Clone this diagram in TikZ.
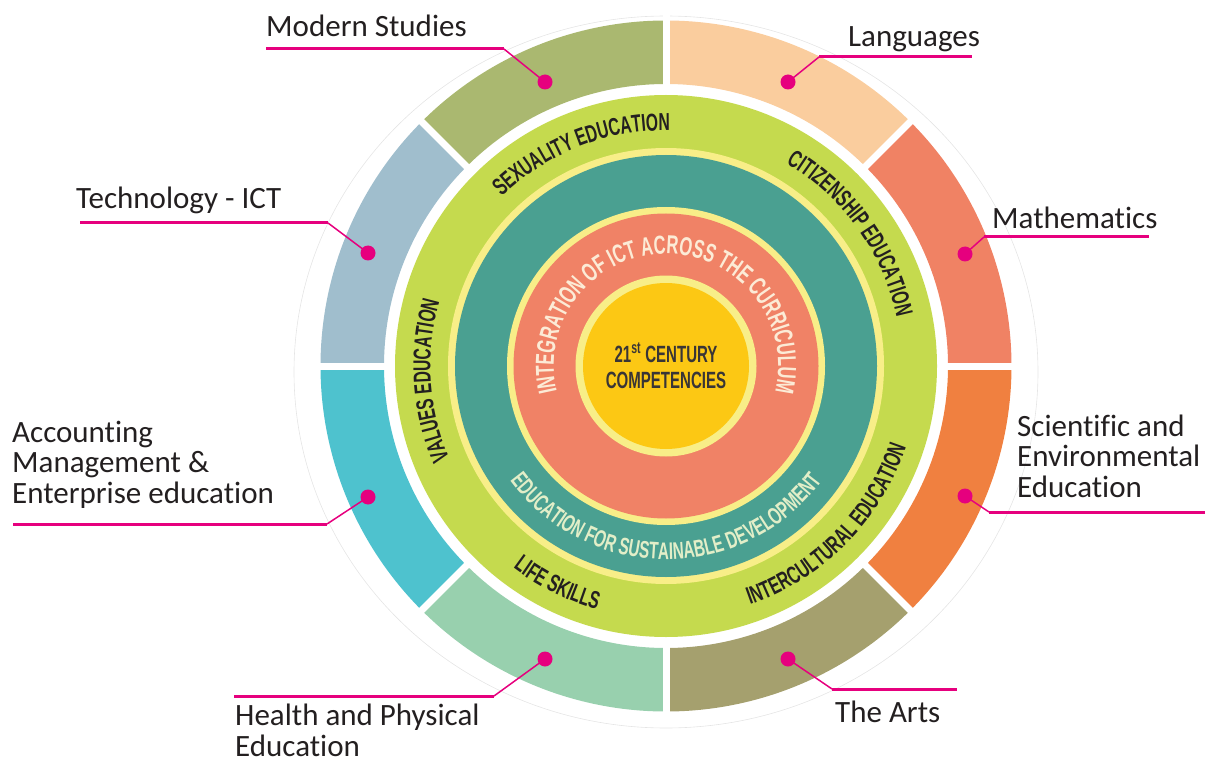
\documentclass[tikz,border=0pt]{standalone}
\usepackage{fontspec}
\setmainfont{Carlito}[Ligatures={NoCommon}]
\newfontfamily\cond[FakeStretch=0.64]{Liberation Sans}
\usetikzlibrary{decorations.text}
\definecolor{cMath}{HTML}{F08264}
\definecolor{cLang}{HTML}{FACD9E}
\definecolor{cMod}{HTML}{AAB870}
\definecolor{cTech}{HTML}{A0BECD}
\definecolor{cAcc}{HTML}{4EC2CE}
\definecolor{cHealth}{HTML}{98D0AE}
\definecolor{cArts}{HTML}{A5A06E}
\definecolor{cSci}{HTML}{F08040}
\definecolor{cGreen}{HTML}{C5DA4E}
\definecolor{cPale}{HTML}{F8EE88}
\definecolor{cTeal}{HTML}{4AA091}
\definecolor{cSalmon}{HTML}{F08266}
\definecolor{cGold}{HTML}{FCC814}
\definecolor{cMag}{HTML}{E6007E}
\definecolor{cInk}{HTML}{231F20}
\definecolor{cCream}{HTML}{FCEBD6}
\definecolor{cMint}{HTML}{E2EEC8}
\newcommand\ringfont{\cond\bfseries\fontsize{24.5}{24.5}\selectfont}
\tikzset{
  lbl/.style={font=\fontsize{31}{30.5}\selectfont, text=cInk, inner sep=0pt, align=left},
  dot/.style={circle, fill=cMag, minimum size=15pt, inner sep=0pt},
  leader/.style={draw=cMag, line width=1.5pt},
  underline/.style={draw=cMag, line width=3pt},
}
\begin{document}
\begin{tikzpicture}[x=1pt,y=-1pt]
\useasboundingbox (0,0) rectangle (1205,762);
\begin{scope}[shift={(666,366)},y=1pt]
  % faint outer outline
  \draw[black!10, line width=0.6pt] (0,-6) ellipse [x radius=372, y radius=356];
  % outer segments
  \foreach \a/\c in {0/cMath,45/cLang,90/cMod,135/cTech,180/cAcc,225/cHealth,270/cArts,315/cSci}{
    \fill[\c] (\a:282) arc[start angle=\a, end angle=\a+45, radius=282]
      -- (\a+45:345.5) arc[start angle=\a+45, end angle=\a, radius=345.5] -- cycle;
  }
  \foreach \a in {0,45,...,315}{
    \draw[white, line width=7pt] (\a:276) -- (\a:352);
  }
  % rings
  \fill[cGreen] (0,0) circle[radius=271];
  \fill[cPale] (0,0) circle[radius=218];
  \fill[cTeal] (0,0) circle[radius=211];
  \fill[cPale] (0,0) circle[radius=159];
  \fill[cSalmon] (0,0) circle[radius=152.5];
  \fill[cPale] (0,0) circle[radius=90.5];
  \fill[cGold] (0,0) circle[radius=83];
  % curved texts on green ring
  \path[decorate, decoration={text along path, text align=center, text color=cInk,
      text={|\ringfont|SEXUALITY EDUCATION}}]
    (161.6:235.7) arc[start angle=161.6, end angle=61.6, radius=235.7];
  \path[decorate, decoration={text along path, text align=center, text color=cInk,
      text={|\ringfont|CITIZENSHIP EDUCATION}}]
    (85.7:235.7) arc[start angle=85.7, end angle=-14.3, radius=235.7];
  \path[decorate, decoration={text along path, text align=center, text color=cInk,
      text={|\ringfont|VALUES EDUCATION}}]
    (233.6:235.7) arc[start angle=233.6, end angle=133.6, radius=235.7];
  \path[decorate, decoration={text along path, text align=center, text color=cInk,
      text={|\ringfont|LIFE SKILLS}}]
    (203.5:253.3) arc[start angle=203.5, end angle=283.5, radius=253.3];
  \path[decorate, decoration={text along path, text align=center, text color=cInk,
      text={|\ringfont|INTERCULTURAL EDUCATION}}]
    (265.4:253.3) arc[start angle=265.4, end angle=365.4, radius=253.3];
  % teal ring text
  \path[decorate, decoration={text along path, text align=center, text color=cMint,
      text={|\cond\bfseries\fontsize{24}{24}\selectfont|EDUCATION FOR SUSTAINABLE DEVELOPMENT}}]
    (195:193.6) arc[start angle=195, end angle=345, radius=193.6];
  % salmon ring text
  \path[decorate, decoration={text along path, text align=center, text color=cCream,
      text={|\cond\bfseries\fontsize{26}{26}\selectfont|INTEGRATION OF ICT ACROSS THE CURRICULUM}}]
    (215:112.2) arc[start angle=215, end angle=-35, radius=112.2];
  % core
  \node[font=\cond\bfseries\fontsize{23.5}{26}\selectfont, text=cInk!90, align=center, inner sep=0pt]
    (core) at (0,0) {21\textsuperscript{st} CENTURY\\COMPETENCIES};
\end{scope}
% dots
\node[dot] (dMod) at (545,82) {};
\node[dot] (dLang) at (788,82) {};
\node[dot] (dTech) at (368,253) {};
\node[dot] (dMath) at (965,254) {};
\node[dot] (dAcc) at (368,497) {};
\node[dot] (dSci) at (965,496) {};
\node[dot] (dHealth) at (545,659) {};
\node[dot] (dArts) at (788,659) {};
% knees and ends
\coordinate (kMod) at (504,49);   \coordinate (eMod) at (266,49);
\coordinate (kLang) at (819,57);  \coordinate (eLang) at (972,57);
\coordinate (kTech) at (328,223); \coordinate (eTech) at (80,223);
\coordinate (kMath) at (984,237); \coordinate (eMath) at (1149,237);
\coordinate (kAcc) at (327,524);  \coordinate (eAcc) at (13,524);
\coordinate (kSci) at (989,512);  \coordinate (eSci) at (1205,512);
\coordinate (kHealth) at (494,696); \coordinate (eHealth) at (234,696);
\coordinate (kArts) at (832,689); \coordinate (eArts) at (957,689);
\foreach \n in {Mod,Lang,Tech,Math,Acc,Sci,Health,Arts}{
  \draw[leader] (d\n.center) -- (k\n);
  \draw[underline] (k\n) -- (e\n);
}
% labels (base anchor = baseline of the last line)
\node[lbl, anchor=base west] (tMod) at (266,37) {Modern Studies};
\node[lbl, anchor=base west] (tLang) at (848,47) {Languages};
\node[lbl, anchor=base west] (tTech) at (76,209) {Technology - ICT};
\node[lbl, anchor=base west] (tMath) at (992,229) {Mathematics};
\node[lbl, anchor=base west] (tAcc) at (12,503) {Accounting\\Management \&\\Enterprise education};
\node[lbl, anchor=base west] (tSci) at (1017,497) {Scientific and\\Environmental\\Education};
\node[lbl, anchor=base west] (tHealth) at (235,756) {Health and Physical\\Education};
\node[lbl, anchor=base west] (tArts) at (835,722) {The Arts};
\end{tikzpicture}
\end{document}
